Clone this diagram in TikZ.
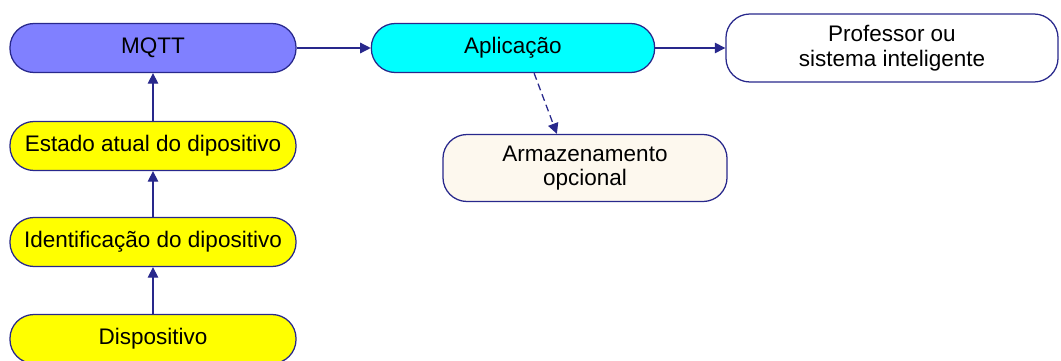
\documentclass[tikz,border=0pt]{standalone}
\usepackage{fontspec}
\setmainfont{Liberation Sans}
\usetikzlibrary{arrows.meta,calc}

\definecolor{edgeblue}{RGB}{40,40,140}
\definecolor{mqttblue}{RGB}{128,128,255}
\definecolor{appcyan}{RGB}{0,255,255}
\definecolor{devyellow}{RGB}{255,255,0}
\definecolor{cream}{RGB}{253,248,238}

\tikzset{
  box/.style={draw=edgeblue,line width=0.9pt,rounded corners=0.6cm,
    minimum width=7.15cm,minimum height=1.225cm,align=center,
    font=\fontsize{16}{17.5}\selectfont,inner sep=2pt},
  link/.style={draw=edgeblue,line width=0.9pt,-{Triangle[length=7.5pt,width=7.5pt]}}
}

\begin{document}
\begin{tikzpicture}[x=0.025cm,y=-0.025cm]
\useasboundingbox (0,0) rectangle (1061,361);

% left column
\node[box,fill=mqttblue] (mqtt) at (153,48) {MQTT};
\node[box,fill=devyellow] (estado) at (153,146) {Estado atual do dipositivo};
\node[box,fill=devyellow] (ident) at (153,242) {Identificação do dipositivo};
\node[box,fill=devyellow] (disp) at (153,339) {Dispositivo};

% right side
\node[box,fill=appcyan,minimum width=7.08cm] (app) at (513,48) {Aplicação};
\node[box,fill=white,minimum width=8.3cm,minimum height=1.7cm] (prof) at (892,48) {Professor ou\\sistema inteligente};
\node[box,fill=cream,minimum width=7.1cm,minimum height=1.675cm] (store) at (585,168) {Armazenamento\\opcional};

% arrows
\draw[link] (disp) -- (ident);
\draw[link] (ident) -- (estado);
\draw[link] (estado) -- (mqtt);
\draw[link] (mqtt) -- (app);
\draw[link] (app) -- (prof);
\draw[link,dash pattern=on 5pt off 3pt] ([xshift=15]app.south) -- ([xshift=-20]store.north);
\end{tikzpicture}
\end{document}
